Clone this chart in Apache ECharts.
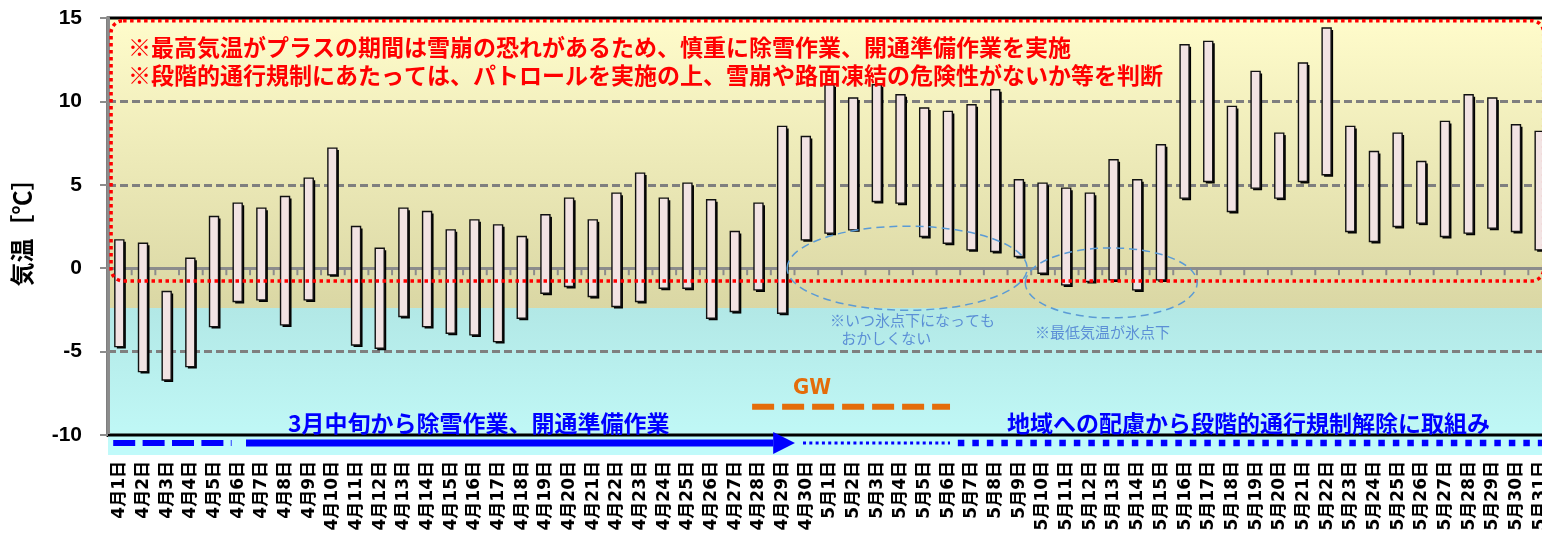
<!DOCTYPE html>
<html>
<head>
<meta charset="utf-8">
<script src="https://cdn.jsdelivr.net/npm/echarts@6/dist/echarts.min.js"></script>
<style>
  html, body { margin: 0; padding: 0; background: #fff; }
  #main { width: 1542px; height: 535px; }
</style>
</head>
<body>
<div id="main"></div>
<script>
// 日付（カテゴリ）
const days = [
  "4月1日", "4月2日", "4月3日", "4月4日", "4月5日", "4月6日", "4月7日", "4月8日", "4月9日", "4月10日",
  "4月11日", "4月12日", "4月13日", "4月14日", "4月15日", "4月16日", "4月17日", "4月18日", "4月19日", "4月20日",
  "4月21日", "4月22日", "4月23日", "4月24日", "4月25日", "4月26日", "4月27日", "4月28日", "4月29日", "4月30日",
  "5月1日", "5月2日", "5月3日", "5月4日", "5月5日", "5月6日", "5月7日", "5月8日", "5月9日", "5月10日",
  "5月11日", "5月12日", "5月13日", "5月14日", "5月15日", "5月16日", "5月17日", "5月18日", "5月19日", "5月20日",
  "5月21日", "5月22日", "5月23日", "5月24日", "5月25日", "5月26日", "5月27日", "5月28日", "5月29日", "5月30日",
  "5月31日"
];

// 最高気温
const maxTemp = [
  1.7, 1.5, -1.4, 0.6, 3.1, 3.9, 3.6, 4.3, 5.4, 7.2,
  2.5, 1.2, 3.6, 3.4, 2.3, 2.9, 2.6, 1.9, 3.2, 4.2,
  2.9, 4.5, 5.7, 4.2, 5.1, 4.1, 2.2, 3.9, 8.5, 7.9,
  11.0, 10.2, 11.0, 10.4, 9.6, 9.4, 9.8, 10.7, 5.3, 5.1,
  4.8, 4.5, 6.5, 5.3, 7.4, 13.4, 13.6, 9.7, 11.8, 8.1,
  12.3, 14.4, 8.5, 7.0, 8.1, 6.4, 8.8, 10.4, 10.2, 8.6,
  8.2
];

// 最低気温
const minTemp = [
  -4.7, -6.2, -6.7, -5.9, -3.5, -2.0, -1.9, -3.4, -1.9, -0.4,
  -4.6, -4.8, -2.9, -3.5, -3.9, -4.0, -4.4, -3.0, -1.5, -1.1,
  -1.7, -2.3, -2.0, -1.2, -1.2, -3.0, -2.6, -1.3, -2.7, 1.7,
  2.1, 2.3, 4.0, 3.9, 1.9, 1.5, 1.1, 1.0, 0.7, -0.3,
  -1.0, -0.8, -0.7, -1.3, -0.7, 4.2, 5.2, 3.4, 4.8, 4.2,
  5.2, 5.6, 2.2, 1.6, 2.5, 2.7, 1.9, 2.1, 2.4, 2.2,
  1.1
];

const JP = '"Noto Sans CJK JP", sans-serif';

const chart = echarts.init(document.getElementById('main'));

const option = {
  animation: false,
  grid: {
    left: 108,
    top: 18,
    width: 1444,
    height: 417,
    outerBoundsMode: 'none',
    containLabel: false,
    show: true,
    borderColor: '#000',
    borderWidth: 3,
    backgroundColor: {
      type: 'linear', x: 0, y: 0, x2: 0, y2: 1,
      colorStops: [
        { offset: 0, color: '#fffccb' },
        { offset: 0.694, color: '#dad7a4' },
        { offset: 0.694, color: '#b2e8e6' },
        { offset: 1, color: '#c0f8f6' }
      ]
    }
  },
  xAxis: [
    {
      type: 'category',
      data: days,
      position: 'bottom',
      axisLine: { onZero: false, lineStyle: { color: '#000', width: 3 } },
      axisTick: { show: false },
      axisLabel: {
        interval: 0,
        rotate: 90,
        margin: 26,
        fontSize: 17,
        fontWeight: 'bold',
        color: '#000',
        fontFamily: '"DejaVu Sans", "Noto Sans CJK JP", sans-serif',
        textShadowColor: 'rgba(0,0,0,0.35)',
        textShadowOffsetX: 1,
        textShadowOffsetY: 1
      }
    },
    {
      // 0℃ の軸線
      type: 'category',
      data: days,
      position: 'top',
      axisLine: { show: true, onZero: true, lineStyle: { color: '#8c8c8c', width: 3 } },
      axisTick: { show: false },
      axisLabel: { show: false }
    }
  ],
  yAxis: {
    type: 'value',
    min: -10,
    max: 15,
    interval: 5,
    name: '気温［℃］',
    nameLocation: 'middle',
    nameRotate: 90,
    nameGap: 74,
    nameTextStyle: { fontSize: 24, fontWeight: 'bold', color: '#000', fontFamily: JP },
    axisLine: { show: true, lineStyle: { color: '#8c8c8c', width: 3 } },
    axisTick: { show: true, length: 8, lineStyle: { color: '#8c8c8c', width: 2 } },
    axisLabel: {
      margin: 26,
      fontSize: 21,
      fontWeight: 'bold',
      color: '#000',
      fontFamily: '"Liberation Sans", Arial, sans-serif'
    },
    splitLine: {
      show: true,
      showMinLine: false,
      showMaxLine: false,
      lineStyle: { color: '#7f7f7f', width: 3, type: [8, 4] }
    }
  },
  series: [
    {
      type: 'custom',
      xAxisIndex: 0,
      yAxisIndex: 0,
      data: days.map((d, i) => [i, minTemp[i], maxTemp[i]]),
      encode: { x: 0, y: [1, 2] },
      renderItem: function (params, api) {
        const top = api.coord([api.value(0), api.value(2)]);
        const bot = api.coord([api.value(0), api.value(1)]);
        const w = 9;
        const x = top[0] - 5;
        const h = bot[1] - top[1];
        return {
          type: 'group',
          children: [
            { type: 'rect', shape: { x: x + 2, y: top[1] + 2, width: w, height: h }, style: { fill: '#000' } },
            { type: 'rect', shape: { x: x, y: top[1], width: w, height: h }, style: { fill: '#f2e3e3', stroke: '#111', lineWidth: 1.4 } }
          ]
        };
      }
    }
  ]
};

chart.setOption(option);

// 注記の位置（カテゴリ番号と気温で指定）
const c0 = chart.convertToPixel({ seriesIndex: 0 }, [0, 0]);
const c1 = chart.convertToPixel({ seriesIndex: 0 }, [1, 0]);
const bw = c1[0] - c0[0];
const px = (i, v) => [c0[0] + i * bw, chart.convertToPixel({ seriesIndex: 0 }, [0, v])[1]];

const blue = '#0000ff';
const note = '#5b8fd6';

function line(a, b, width, color, dash) {
  return {
    type: 'line',
    shape: { x1: a[0], y1: a[1], x2: b[0], y2: b[1] },
    style: { stroke: color, lineWidth: width, lineDash: dash || null },
    z: 100
  };
}
function text(p, str, font, color) {
  return {
    type: 'text',
    x: p[0],
    y: p[1],
    style: { text: str, font: font, fill: color, verticalAlign: 'middle' },
    z: 100
  };
}

const rTL = px(-0.37, 14.84);
const rBR = px(60.15, -0.76);
const e1 = px(33.26, 0.0);
const e2 = px(41.88, -0.88);
const stripTop = px(-0.5, -10);
const stripBot = px(61, -11.2);
const yArrow = px(0, -10.48)[1];
const arrowHead = px(27.6, -10.48);
const arrowTip = px(28.52, -10.48);

// 0℃ 軸の目盛り（カテゴリ境界）
const zeroTicks = days.map((d, i) => line(px(i - 0.5, 0), [px(i - 0.5, 0)[0], px(i - 0.5, 0)[1] + 7], 2, '#8c8c8c'));
zeroTicks.forEach(t => { t.z = 3; });

const graphics = [
  // 下部の帯
  {
    type: 'rect',
    shape: { x: stripTop[0], y: stripTop[1] + 1.5, width: stripBot[0] - stripTop[0], height: stripBot[1] - stripTop[1] - 1.5 },
    style: { fill: '#c0fafa' },
    z: 1
  },
  ...zeroTicks,
  // 赤点線枠
  {
    type: 'rect',
    shape: { x: rTL[0], y: rTL[1], width: rBR[0] - rTL[0], height: rBR[1] - rTL[1], r: 12 },
    style: { fill: null, stroke: '#ff0000', lineWidth: 3.5, lineDash: [3.5, 3.5] },
    z: 100
  },
  text(px(0.35, 13.23), '※最高気温がプラスの期間は雪崩の恐れがあるため、慎重に除雪作業、開通準備作業を実施', 'bold 23px ' + JP, '#ff0000'),
  text(px(0.35, 11.55), '※段階的通行規制にあたっては、パトロールを実施の上、雪崩や路面凍結の危険性がないか等を判断', 'bold 23px ' + JP, '#ff0000'),
  // 青破線の楕円
  {
    type: 'ellipse',
    shape: { cx: e1[0], cy: e1[1], rx: 5.07 * bw, ry: 42 },
    style: { fill: null, stroke: '#5b9bd5', lineWidth: 1.5, lineDash: [8, 5] },
    z: 100
  },
  {
    type: 'ellipse',
    shape: { cx: e2[0], cy: e2[1], rx: 3.63 * bw, ry: 35 },
    style: { fill: null, stroke: '#5b9bd5', lineWidth: 1.5, lineDash: [8, 5] },
    z: 100
  },
  text(px(30.0, -3.15), '※いつ氷点下になっても', '15px ' + JP, note),
  text(px(30.47, -4.22), 'おかしくない', '15px ' + JP, note),
  text(px(38.66, -3.87), '※最低気温が氷点下', '15px ' + JP, note),
  // GW
  text(px(28.44, -7.21), 'GW', 'bold 22px "Liberation Sans Narrow", "DejaVu Sans Condensed", sans-serif', '#e46c0a'),
  line(px(26.71, -8.3), px(35.07, -8.3), 6, '#e46c0a', [22, 8]),
  // 青文字
  text(px(7.1, -9.3), '3月中旬から除雪作業、開通準備作業', 'bold 23px ' + JP, blue),
  text(px(37.48, -9.3), '地域への配慮から段階的通行規制解除に取組み', 'bold 23px ' + JP, blue),
  // 青矢印類
  line(px(-0.28, -10.48), px(4.72, -10.48), 6, blue, [22, 7.4]),
  line(px(5.33, -10.48), arrowHead, 7, blue),
  {
    type: 'polygon',
    shape: { points: [[arrowHead[0], yArrow - 11], [arrowTip[0], yArrow], [arrowHead[0], yArrow + 11]] },
    style: { fill: blue },
    z: 100
  },
  line(px(28.86, -10.48), px(35.07, -10.48), 3, blue, [3, 3.3]),
  line(px(35.4, -10.48), px(60.2, -10.48), 6.5, blue, [6.5, 8])
];

chart.setOption({ graphic: graphics });
</script>
</body>
</html>
